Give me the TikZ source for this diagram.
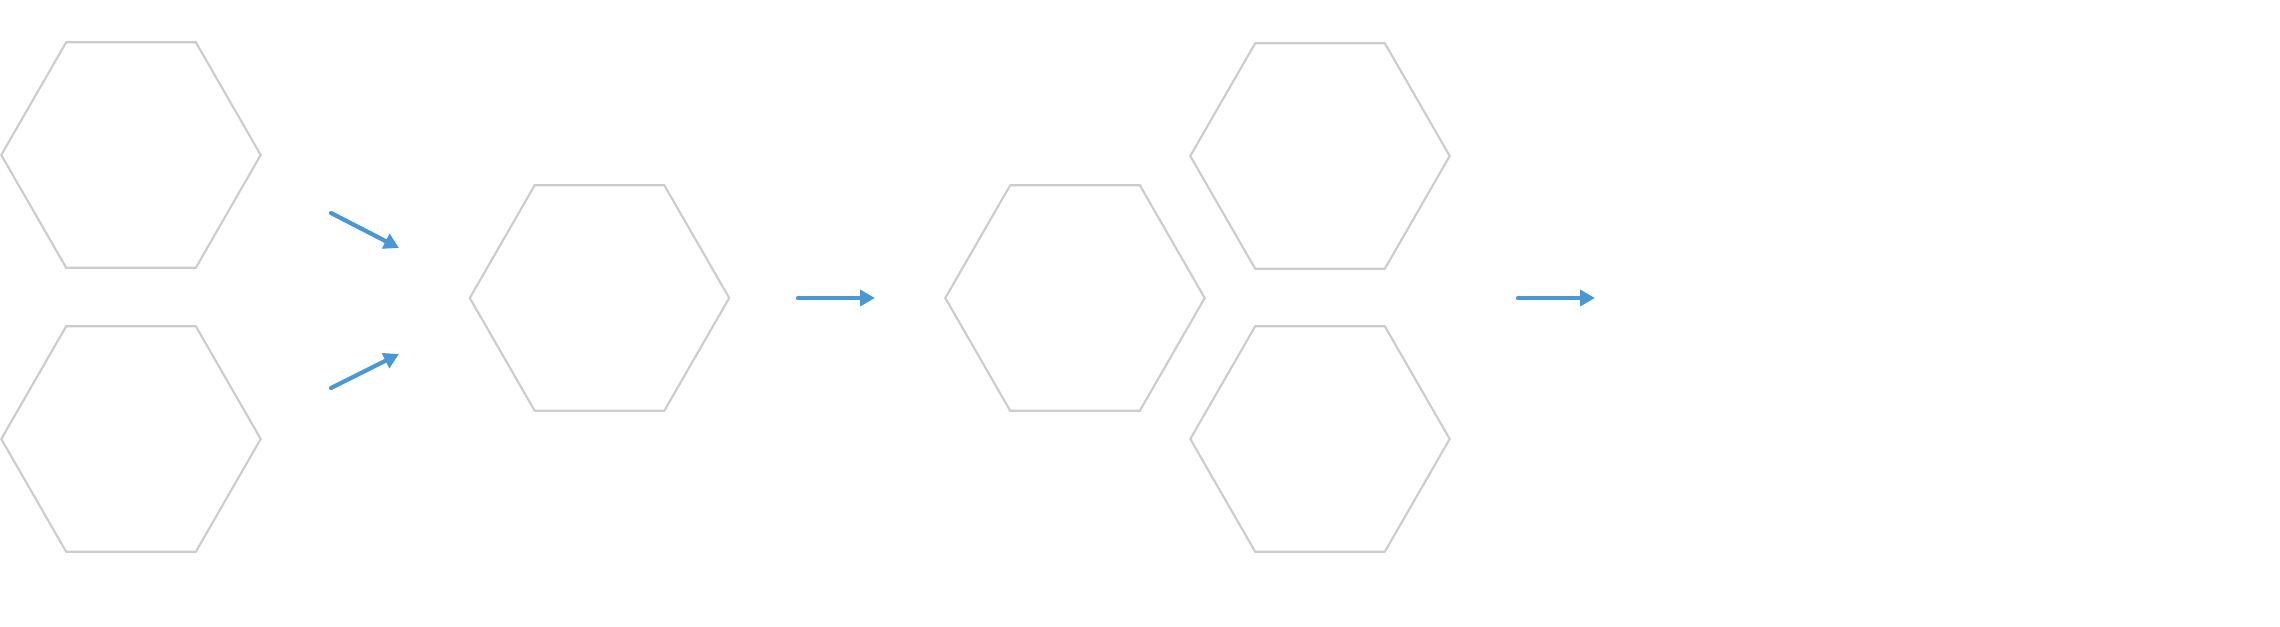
\documentclass[tikz,border=0pt]{standalone}
\usetikzlibrary{calc,arrows.meta}
\definecolor{hexgray}{HTML}{CCCCCC}
\definecolor{flowblue}{HTML}{4A98D3}
\tikzset{
  hexbox/.style={rectangle, draw=none, minimum width=2.58cm, minimum height=2.24cm, inner sep=0pt},
  hexline/.style={draw=hexgray, line width=.6pt, line join=miter},
  flow/.style={draw=flowblue, line width=1.2pt, line cap=round, -{Triangle[length=.15cm,width=.16cm]}}
}
\begin{document}
\begin{tikzpicture}
\useasboundingbox (0,0) rectangle (22.8,6.26);
% hexagons
\node[hexbox] (inA) at (1.31,4.71) {};
\node[hexbox] (inB) at (1.31,1.87) {};
\node[hexbox] (mid) at (5.995,3.28) {};
\node[hexbox] (res) at (10.75,3.28) {};
\node[hexbox] (outA) at (13.20,4.70) {};
\node[hexbox] (outB) at (13.20,1.87) {};
\foreach \n in {inA,inB,mid,res,outA,outB}
  \draw[hexline] (\n.west) -- ($(\n.north west)!.25!(\n.north east)$)
    -- ($(\n.north west)!.75!(\n.north east)$) -- (\n.east)
    -- ($(\n.south west)!.75!(\n.south east)$)
    -- ($(\n.south west)!.25!(\n.south east)$) -- cycle;
% arrows
\coordinate (f1s) at (3.31,4.13);
\coordinate (f1e) at (3.99,3.78);
\coordinate (f2s) at (3.31,2.38);
\coordinate (f2e) at (3.99,2.72);
\coordinate (f3s) at (7.98,3.28);
\coordinate (f3e) at (8.75,3.28);
\coordinate (f4s) at (15.18,3.28);
\coordinate (f4e) at (15.95,3.28);
\draw[flow] (f1s) -- (f1e);
\draw[flow] (f2s) -- (f2e);
\draw[flow] (f3s) -- (f3e);
\draw[flow] (f4s) -- (f4e);
\end{tikzpicture}
\end{document}
